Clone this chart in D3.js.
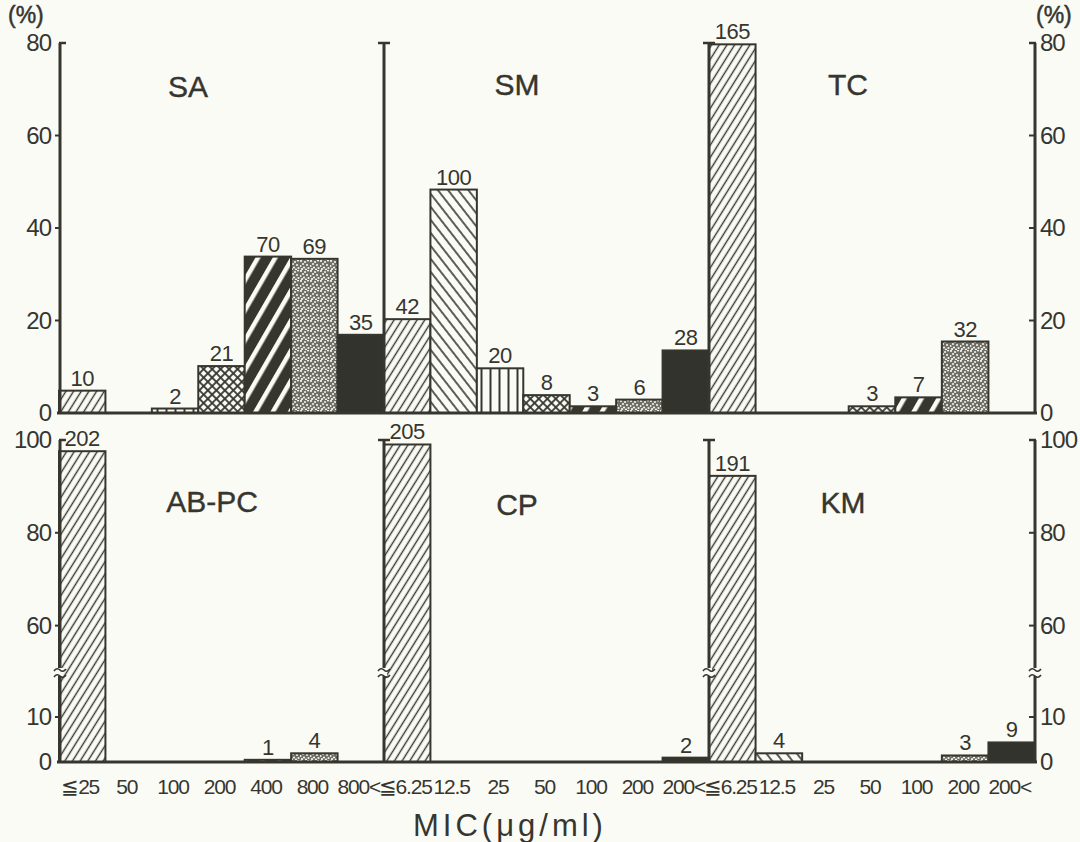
<!doctype html>
<html>
<head>
  <meta charset="utf-8">
  <style>
    body { margin: 0; background: #fbfbf6; }
    svg { display: block; }
    text { font-family: "Liberation Sans", Arial, sans-serif; fill: #36362f; }
  </style>
  <script src="https://cdn.jsdelivr.net/npm/d3@7/dist/d3.min.js"></script>
</head>
<body>
<script>
  // MIC categories (x axis of each column)
  var micSA = ["≦25", "50", "100", "200", "400", "800", "800<"];
  var micSM = ["≦6.25", "12.5", "25", "50", "100", "200", "200<"];
  var micTC = ["≦6.25", "12.5", "25", "50", "100", "200", "200<"];

  // number of strains per MIC class (bar labels); bar height = % of all strains
  var countSA   = [10, 0, 2, 21, 70, 69, 35];
  var countSM   = [42, 100, 20, 8, 3, 6, 28];
  var countTC   = [165, 0, 0, 3, 7, 32, 0];
  var countABPC = [202, 0, 0, 0, 1, 4, 0];
  var countCP   = [205, 0, 0, 0, 0, 0, 2];
  var countKM   = [191, 4, 0, 0, 0, 3, 9];

  var topTicks = [0, 20, 40, 60, 80];
  var bottomTicks = [0, 10, 60, 80, 100];

  var W = 1080, H = 842;
  var ink = "#36362f";
  var paper = "#fbfbf6";

  var svg = d3.select("body").append("svg")
    .attr("width", W)
    .attr("height", H);

  // ---- fill patterns, one per MIC class ----
  var defs = svg.append("defs");

  function hatch(id, size, angle, lw) {
    var p = defs.append("pattern").attr("id", id)
      .attr("patternUnits", "userSpaceOnUse")
      .attr("width", size).attr("height", size)
      .attr("patternTransform", "rotate(" + angle + ")");
    p.append("rect").attr("width", size).attr("height", size).attr("fill", paper);
    p.append("line").attr("x1", size / 2).attr("x2", size / 2)
      .attr("y1", 0).attr("y2", size)
      .attr("stroke", ink).attr("stroke-width", lw);
  }
  hatch("p0", 6.5, 32, 1.4);    // fine ////
  hatch("p1", 8, -38, 1.6);     // \\\\
  hatch("p2", 9, 0, 2);         // vertical

  var pc = defs.append("pattern").attr("id", "p3")
    .attr("patternUnits", "userSpaceOnUse")
    .attr("width", 6).attr("height", 6)
    .attr("patternTransform", "rotate(45)");
  pc.append("rect").attr("width", 6).attr("height", 6).attr("fill", paper);
  pc.append("line").attr("x1", 3).attr("x2", 3).attr("y1", 0).attr("y2", 6)
    .attr("stroke", ink).attr("stroke-width", 1.8);
  pc.append("line").attr("y1", 3).attr("y2", 3).attr("x1", 0).attr("x2", 6)
    .attr("stroke", ink).attr("stroke-width", 1.8);

  var pb = defs.append("pattern").attr("id", "p4")
    .attr("patternUnits", "userSpaceOnUse")
    .attr("width", 15).attr("height", 15)
    .attr("patternTransform", "rotate(30)");
  pb.append("rect").attr("width", 15).attr("height", 15).attr("fill", ink);
  pb.append("rect").attr("x", 5).attr("width", 4.5).attr("height", 15).attr("fill", paper);

  // stipple tile
  var dots = [[1, 1], [5, 2], [8, 0.5], [3, 4], [7, 5], [0.5, 6], [4, 7.5], [8.5, 8], [2, 9], [6, 9.5]];
  var ps = defs.append("pattern").attr("id", "p5")
    .attr("patternUnits", "userSpaceOnUse")
    .attr("width", 10).attr("height", 10);
  ps.append("rect").attr("width", 10).attr("height", 10).attr("fill", "#6e6e66");
  ps.selectAll("circle").data(dots).enter().append("circle")
    .attr("cx", function(d) { return d[0]; })
    .attr("cy", function(d) { return d[1]; })
    .attr("r", 1.1)
    .attr("fill", "#f2f2ea");

  var fills = ["url(#p0)", "url(#p1)", "url(#p2)", "url(#p3)", "url(#p4)", "url(#p5)", "#33332d"];

  // ---- scales ----
  var total = d3.sum(countSA);
  var colX = [[59, 384], [384, 709], [709, 1035]];
  var yTop = d3.scaleLinear().domain([0, 80]).range([413, 43]);
  // broken axis: 0-20 below the break, 50-100 above
  var yBot = d3.scaleLinear().domain([0, 20, 50, 100]).range([762, 672, 672, 440]);

  var panels = [
    { name: "SA",    cats: micSA, counts: countSA,   col: 0, y: yTop, tx: 188, ty: 97 },
    { name: "SM",    cats: micSM, counts: countSM,   col: 1, y: yTop, tx: 517, ty: 95 },
    { name: "TC",    cats: micTC, counts: countTC,   col: 2, y: yTop, tx: 848, ty: 95 },
    { name: "AB-PC", cats: micSA, counts: countABPC, col: 0, y: yBot, tx: 212, ty: 512 },
    { name: "CP",    cats: micSM, counts: countCP,   col: 1, y: yBot, tx: 517, ty: 515 },
    { name: "KM",    cats: micTC, counts: countKM,   col: 2, y: yBot, tx: 843, ty: 513 }
  ];

  panels.forEach(function(p) {
    var x = d3.scaleBand().domain(p.cats).range(colX[p.col]).padding(0);
    var g = svg.append("g");
    var rows = p.cats.map(function(c, i) { return { cat: c, n: p.counts[i], i: i }; })
      .filter(function(d) { return d.n > 0; });

    g.selectAll("rect").data(rows).enter().append("rect")
      .attr("x", function(d) { return x(d.cat); })
      .attr("width", x.bandwidth())
      .attr("y", function(d) { return p.y(d.n / total * 100); })
      .attr("height", function(d) { return p.y(0) - p.y(d.n / total * 100); })
      .attr("fill", function(d) { return fills[d.i]; })
      .attr("stroke", ink)
      .attr("stroke-width", 2);

    g.selectAll(".val").data(rows).enter().append("text")
      .attr("class", "val")
      .attr("x", function(d) { return x(d.cat) + x.bandwidth() / 2; })
      .attr("y", function(d) { return p.y(d.n / total * 100) - 5; })
      .attr("text-anchor", "middle")
      .style("font-size", "22px")
      .style("letter-spacing", "-0.5px")
      .text(function(d) { return d.n; });

    svg.append("text")
      .attr("x", p.tx).attr("y", p.ty)
      .attr("text-anchor", "middle")
      .style("font-size", "30px")
      .style("stroke", ink).style("stroke-width", 0.4)
      .text(p.name);

    if (p.y === yBot) {
      var ax = svg.append("g")
        .attr("transform", "translate(0," + (yBot(0) + 17) + ")")
        .call(d3.axisBottom(x).tickSize(0).tickPadding(0));
      ax.select(".domain").remove();
      ax.selectAll("text")
        .attr("dx", -2)
        .style("font-size", "21px")
        .style("letter-spacing", "-1.2px")
        .style("fill", ink)
        .style("font-family", "'Liberation Sans', Arial, sans-serif");
    }
  });

  // ---- baselines ----
  [yTop(0), yBot(0)].forEach(function(y0) {
    svg.append("line")
      .attr("x1", 57).attr("x2", 1037)
      .attr("y1", y0).attr("y2", y0)
      .attr("stroke", ink).attr("stroke-width", 3);
  });

  // ---- vertical axes ----
  var axisX = [60, 384, 709, 1035];
  function vertical(scale, topVal, broken) {
    axisX.forEach(function(xv, k) {
      var yTopPx = scale(topVal);
      svg.append("line")
        .attr("x1", xv).attr("x2", xv)
        .attr("y1", yTopPx).attr("y2", scale(0) + 1)
        .attr("stroke", ink).attr("stroke-width", 3);
      // cap at top
      var cx1 = k === 0 ? xv - 1 : xv - 6;
      var cx2 = k === 3 ? xv + 1 : xv + 6;
      svg.append("line")
        .attr("x1", cx1).attr("x2", cx2)
        .attr("y1", yTopPx).attr("y2", yTopPx)
        .attr("stroke", ink).attr("stroke-width", 2.5);
      if (broken) {
        var yb = scale(20);
        svg.append("rect")
          .attr("x", xv - 3).attr("y", yb - 4)
          .attr("width", 6).attr("height", 8)
          .attr("fill", paper);
        [-3, 3].forEach(function(o) {
          svg.append("path")
            .attr("d", "M" + (xv - 6) + "," + (yb + o + 2) + " q3,-4 6,-1 q3,3 6,-1")
            .attr("fill", "none")
            .attr("stroke", ink)
            .attr("stroke-width", 1.6);
        });
      }
    });
  }
  vertical(yTop, 80, false);
  vertical(yBot, 100, true);

  // ---- tick labels left and right ----
  function ticks(scale, vals) {
    var inner = vals.slice(1, vals.length - 1);
    var gl = svg.append("g").attr("transform", "translate(60,0)")
      .call(d3.axisLeft(scale).tickValues(vals).tickSize(0).tickPadding(9));
    var gr = svg.append("g").attr("transform", "translate(1035,0)")
      .call(d3.axisRight(scale).tickValues(vals).tickSize(0).tickPadding(5));
    [gl, gr].forEach(function(g) {
      g.select(".domain").remove();
      g.selectAll("text")
        .style("font-size", "24px")
        .style("letter-spacing", "-1px")
        .style("fill", ink)
        .style("font-family", "'Liberation Sans', Arial, sans-serif");
    });
    // small ticks on the outer side of the left axis and inner side of the right axis
    inner.forEach(function(v) {
      svg.append("line").attr("x1", 55).attr("x2", 60)
        .attr("y1", scale(v)).attr("y2", scale(v))
        .attr("stroke", ink).attr("stroke-width", 2);
      svg.append("line").attr("x1", 1029).attr("x2", 1035)
        .attr("y1", scale(v)).attr("y2", scale(v))
        .attr("stroke", ink).attr("stroke-width", 2);
    });
  }
  ticks(yTop, topTicks);
  ticks(yBot, bottomTicks);

  // ---- units ----
  svg.append("text").attr("x", 8).attr("y", 23)
    .style("font-size", "23px").style("stroke", ink).style("stroke-width", 0.5).text("(%)");
  svg.append("text").attr("x", 1036).attr("y", 23)
    .style("font-size", "23px").style("stroke", ink).style("stroke-width", 0.5).text("(%)");

  svg.append("text")
    .attr("x", 510).attr("y", 836)
    .attr("text-anchor", "middle")
    .style("font-size", "31px")
    .style("letter-spacing", "4px")
    .text("MIC(μg/ml)");
</script>
</body>
</html>
